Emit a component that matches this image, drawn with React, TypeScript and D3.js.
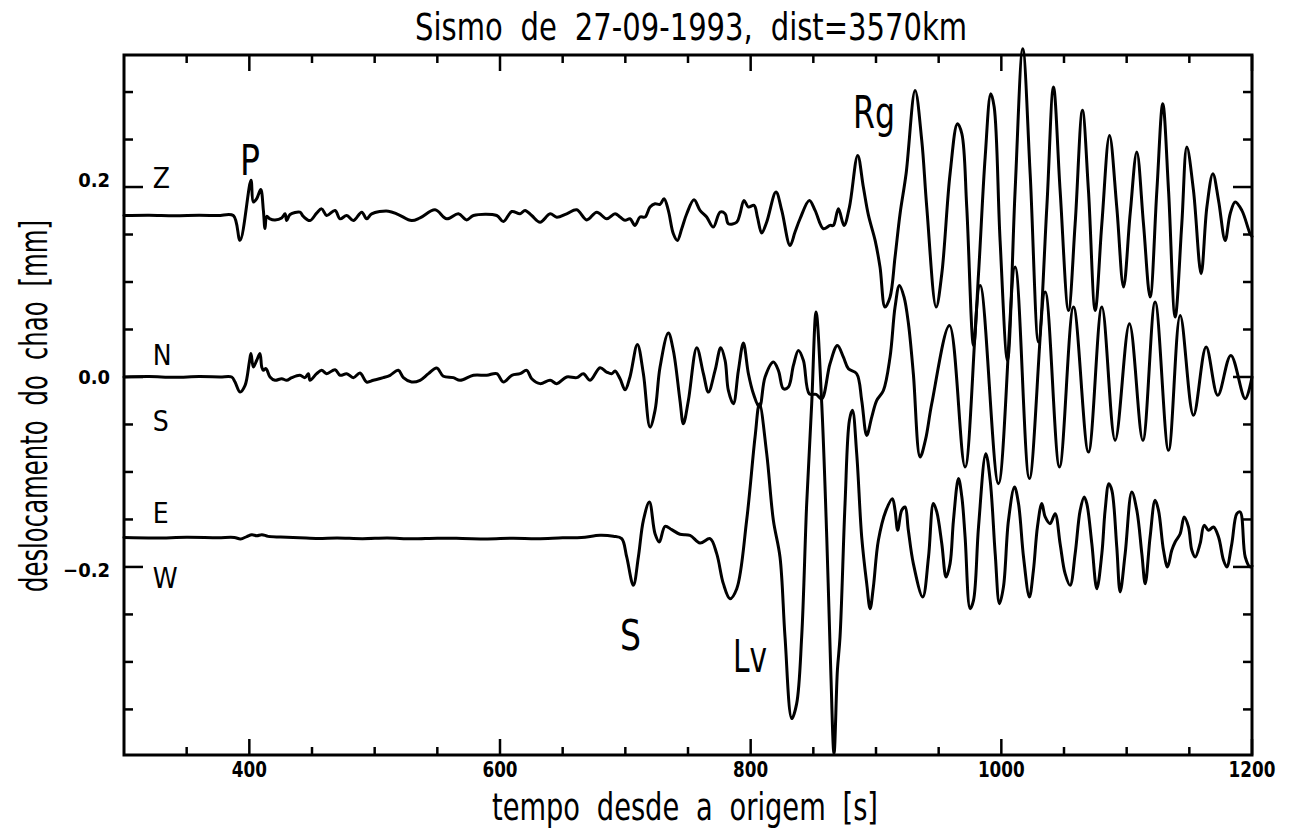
import React from 'react';
import * as d3 from 'd3';

// ---------- data (time [s], displacement [mm]) ----------
const zTrace: [number, number][] = [
  [300, 0.17], [320, 0.1703], [340, 0.1698], [360, 0.1702], [375, 0.1699], [387.2, 0.17],
  [392.6, 0.1439], [401.3, 0.2071], [403.2, 0.1842], [405.9, 0.1878], [409.1, 0.1973], [411.2, 0.1755],
  [412.5, 0.1562], [413.9, 0.1692], [416.5, 0.1665], [420.5, 0.1654], [425.8, 0.1675], [428.5, 0.1718],
  [429.8, 0.1647], [432.5, 0.171], [440.4, 0.1735], [443.1, 0.169], [448.4, 0.1647], [453.7, 0.1725],
  [457.7, 0.177], [461.7, 0.17], [468.4, 0.1753], [472.4, 0.1665], [477.7, 0.17], [483, 0.1647],
  [489.7, 0.1735], [493.6, 0.1665], [497.6, 0.1718], [510.9, 0.1746], [518.9, 0.171], [529.5, 0.1647],
  [536.2, 0.1675], [548.2, 0.176], [557.5, 0.1665], [566.8, 0.1718], [573.4, 0.1654], [578.8, 0.17],
  [597.4, 0.17], [602.7, 0.1637], [609.4, 0.1742], [616, 0.1718], [620, 0.1753], [625.3, 0.17],
  [632, 0.163], [640, 0.1718], [645.3, 0.1682], [653.2, 0.1718], [661.2, 0.176], [669.2, 0.1654],
  [677.2, 0.1735], [685.1, 0.1666], [691.8, 0.1719], [695.8, 0.1684], [699.8, 0.1649], [703.7, 0.1666],
  [707.7, 0.1596], [711.7, 0.1684], [715.7, 0.1684], [719.7, 0.1789], [723.7, 0.1824], [727.7, 0.1817],
  [730.9, 0.1877], [734.3, 0.1754], [738.3, 0.1508], [741.5, 0.1438], [745, 0.1561], [749, 0.1719],
  [754.8, 0.1866], [759.6, 0.1754], [764.9, 0.1684], [770.2, 0.1578], [775.6, 0.1736], [779.6, 0.1719],
  [782.2, 0.1614], [788.9, 0.1631], [791.5, 0.1719], [794.7, 0.1859], [798.2, 0.1789], [802.7, 0.1807],
  [805.4, 0.1684], [808.8, 0.1515], [812.8, 0.1631], [820.2, 0.1947], [824.8, 0.1754], [831.4, 0.1385],
  [835.4, 0.1526], [839.4, 0.1666], [846.8, 0.1859], [851.4, 0.1754], [858, 0.1561], [863.3, 0.1596],
  [866, 0.1596], [870, 0.1771], [874.5, 0.1596], [878.8, 0.1789], [885.4, 0.2333], [889.9, 0.2],
  [894, 0.1701], [899.3, 0.1438], [903.2, 0.1157], [907.2, 0.0736], [911.2, 0.0841], [915.2, 0.1263],
  [919.2, 0.1719], [924, 0.214], [931.2, 0.3017], [936.5, 0.2491], [940.5, 0.1789], [948, 0.0736],
  [952.5, 0.1087], [959.1, 0.214], [965, 0.2667], [968.5, 0.2561], [972.4, 0.1789], [977.8, 0.0332],
  [981.8, 0.1087], [987.1, 0.2315], [991.6, 0.2982], [994.3, 0.2842], [999, 0.1438], [1004.9, 0.0174],
  [1011, 0.1965], [1017.1, 0.3456], [1023, 0.214], [1029.6, 0.0367], [1036.3, 0.1789], [1041.6, 0.3053],
  [1046.9, 0.1965], [1053.6, 0.0701], [1058.9, 0.1614], [1064.7, 0.2807], [1069.5, 0.1965], [1074.9, 0.0701],
  [1080.2, 0.1614], [1086.3, 0.2543], [1092.1, 0.1789], [1097.5, 0.0947], [1102.8, 0.1719], [1108.1, 0.237],
  [1113.4, 0.1614], [1118.7, 0.0841], [1124.1, 0.1965], [1128.8, 0.2877], [1133.4, 0.1965], [1138.7, 0.0631],
  [1144, 0.1614], [1148, 0.2421], [1153.3, 0.1965], [1159.4, 0.1087], [1164, 0.1789], [1168.8, 0.214],
  [1173.3, 0.1859], [1178.6, 0.1438], [1182.6, 0.1719], [1186.6, 0.1842], [1191.9, 0.1754], [1198.5, 0.1508],
  [1200, 0.148],
];

const nTrace: [number, number][] = [
  [300, 0], [320, 0.0005], [340, -0.0003], [360, 0.0004], [376.6, 0], [385.9, 0], [388.6, -0.0053],
  [392.6, -0.0158], [396.6, -0.0088], [400, 0.0158], [401.3, 0.0246], [403.2, 0.0105], [405.9, 0.0176],
  [408.5, 0.0246], [409.9, 0.0105], [411.2, 0.007], [413.3, 0.0088], [416.5, 0], [420.5, -0.0035],
  [425.8, -0.0018], [429.8, -0.0035], [433.8, -0.0007], [440.4, 0.0018], [444.4, -0.0007], [447.1, 0.0035],
  [448.4, -0.0035], [453.7, 0.0035], [457.7, 0.007], [461.7, 0.0035], [468.4, 0.0077], [472.4, 0.0018],
  [477.7, 0.0035], [483, -0.0007], [488.3, 0.0042], [493.6, -0.0053], [499, -0.0035], [506.9, -0.0007],
  [512.3, 0.0018], [518.9, 0.007], [522.9, -0.0007], [529.5, -0.0053], [536.2, -0.0035], [542.9, 0.0035],
  [549.5, 0.0095], [554.8, 0.0007], [562.8, -0.0007], [568.1, -0.0035], [578.8, 0.0018], [589.4, 0.0018],
  [597.4, 0.0035], [602.7, -0.0053], [609.4, 0.0018], [616, 0.0035], [621.3, 0.007], [625.3, -0.0018],
  [632, -0.007], [640, -0.0035], [645.3, -0.007], [653.2, 0], [661.2, -0.0007], [666.5, 0.0035],
  [671.9, -0.0035], [679.8, 0.0098], [685.1, 0.0052], [689.1, 0.0034], [691.8, 0.0062], [695.8, -0.0019],
  [699.8, -0.0135], [703.7, 0], [709.6, 0.0343], [714.4, 0.0034], [719.7, -0.0528], [723.7, -0.0352],
  [727.7, 0.0104], [734.3, 0.0462], [738.3, 0.0279], [743.6, -0.0247], [746.3, -0.0493], [750.3, -0.0247],
  [757, 0.0308], [762.3, 0.0034], [766.3, -0.0159], [771.6, 0.0069], [776.1, 0.0308], [779.6, 0.0174],
  [782.2, -0.0142], [786.2, -0.0282], [790.2, 0.0069], [794.2, 0.0357], [798.2, 0.0034], [802.2, -0.0177],
  [807, -0.0317], [811.5, 0], [818.1, 0.0157], [822.1, 0.007], [826.1, -0.0124], [830.1, -0.0106],
  [834.1, 0.0122], [838.1, 0.028], [842.1, 0.0174], [846.8, -0.0177], [852.2, -0.0184], [856.7, -0.023],
  [863.3, 0.0139], [869.2, 0.0332], [874, 0.0209], [878, 0.0087], [884.6, 0.0034], [888.6, -0.0247],
  [892.6, -0.0615], [896.6, -0.0422], [900.6, -0.0247], [905.9, -0.0142], [911.2, 0.0209], [915.2, 0.0736],
  [918.7, 0.0964], [922.4, 0.0841], [925.9, 0.056], [929.8, 0.0034], [935.2, -0.0842], [939.5, -0.066],
  [944.5, -0.028], [958.6, 0.0543], [971.1, -0.0947], [983.1, 0.0964], [997.7, -0.1123], [1011, 0.1157],
  [1022.4, -0.107], [1035, 0.0894], [1046.4, -0.0947], [1057.6, 0.0736], [1069.5, -0.079], [1080.2, 0.0736],
  [1090.8, -0.0667], [1102.2, 0.056], [1112.9, -0.0667], [1122.7, 0.0789], [1133.4, -0.0772], [1142.7, 0.0648],
  [1153.3, -0.0403], [1163.4, 0.0315], [1172.7, -0.0193], [1183.1, 0.0227], [1194.6, -0.0228], [1200, 0],
];

const eTrace: [number, number][] = [
  [300, -0.169], [325, -0.1695], [350, -0.1688], [375, -0.1692], [388, -0.169], [393, -0.1705],
  [398, -0.168], [402, -0.1662], [406, -0.1672], [410, -0.166], [415, -0.1678], [425, -0.1685],
  [440, -0.1692], [455, -0.17], [470, -0.1694], [490, -0.1702], [510, -0.1696], [530, -0.1703],
  [550, -0.1697], [570, -0.17], [590, -0.1705], [610, -0.1698], [630, -0.1702], [650, -0.1693],
  [665, -0.169], [679.8, -0.1667], [690.4, -0.1677], [697.1, -0.1702], [701.1, -0.1895], [706.4, -0.2194],
  [710.4, -0.1895], [714.4, -0.1509], [719.2, -0.1316], [723.7, -0.165], [727.1, -0.1737], [731.7, -0.1572],
  [737, -0.1607], [743.6, -0.1656], [751.6, -0.1667], [759.6, -0.1748], [767.6, -0.1702], [772.9, -0.186],
  [778.2, -0.2176], [783.5, -0.2334], [788.9, -0.2229], [796.8, -0.1509], [803.5, -0.0632], [807, -0.0281],
  [812.8, -0.0807], [818.1, -0.1509], [823.4, -0.1895], [827.4, -0.2737], [832.8, -0.3597], [836.7, -0.3439],
  [840.7, -0.2737], [844.7, -0.1333], [848.7, -0.0281], [852.2, 0.0684], [856.7, -0.0281], [860.7, -0.1685],
  [863.9, -0.3088], [866.5, -0.3966], [869.2, -0.3088], [871.3, -0.2737], [875.3, -0.1333], [878.8, -0.0456],
  [881.2, -0.0351], [884.6, -0.0807], [888.6, -0.1685], [892.6, -0.2176], [895.3, -0.2439], [897.9, -0.2211],
  [901.9, -0.172], [908, -0.1404], [913.1, -0.1281], [915.2, -0.1404], [917.3, -0.1614], [920.5, -0.1404],
  [923.2, -0.1369], [925.8, -0.1614], [929.8, -0.1965], [937.3, -0.2316], [941.9, -0.1895], [945.8, -0.1333],
  [948.5, -0.1421], [952.5, -0.1755], [955.9, -0.2106], [959.1, -0.1965], [961.8, -0.1509], [965.8, -0.107],
  [968.5, -0.1263], [971.1, -0.1685], [975.1, -0.2439], [977.8, -0.2352], [981.8, -0.1579], [987.6, -0.0807],
  [991.1, -0.1088], [995.1, -0.186], [998.5, -0.2387], [1001.7, -0.221], [1005.7, -0.1509], [1010.5, -0.1158],
  [1013.7, -0.1333], [1017.7, -0.1895], [1022.4, -0.2316], [1025.6, -0.2036], [1028.8, -0.1579], [1032.3, -0.1333],
  [1035, -0.1474], [1038.9, -0.1544], [1042.9, -0.1439], [1046.9, -0.1755], [1050.9, -0.2071], [1054.9, -0.2194],
  [1058.9, -0.186], [1062.9, -0.1404], [1066.1, -0.1263], [1068.2, -0.1333], [1072.2, -0.1755], [1076.2, -0.2229],
  [1080.2, -0.186], [1082.8, -0.1404], [1085.8, -0.1123], [1088.2, -0.1193], [1092.1, -0.179], [1094.8, -0.2264],
  [1098.8, -0.186], [1104.1, -0.1211], [1108.1, -0.1404], [1112.1, -0.186], [1114.8, -0.2176], [1118.7, -0.1685],
  [1122.7, -0.1299], [1125.4, -0.1404], [1129.4, -0.1825], [1132.6, -0.2], [1136, -0.1825], [1138.7, -0.1737],
  [1142.7, -0.165], [1145.9, -0.1474], [1149.3, -0.1579], [1152, -0.1825], [1154.7, -0.1895], [1158.6, -0.1755],
  [1161.8, -0.1562], [1165.3, -0.1614], [1169.3, -0.1579], [1173.3, -0.1685], [1177.3, -0.193], [1179.9, -0.2],
  [1183.9, -0.1755], [1187.9, -0.1439], [1190.6, -0.1421], [1194.6, -0.1895], [1198.5, -0.2], [1200, -0.199],
];

const xMajorTicks = [400, 600, 800, 1000, 1200];
const xMinorTicks = [350, 450, 500, 550, 650, 700, 750, 850, 900, 950, 1050, 1100, 1150];
const yMajorTicks = [-0.2, 0.0, 0.2];
const yMinorTicks = [-0.35, -0.3, -0.25, -0.15, -0.1, -0.05, 0.05, 0.1, 0.15, 0.25, 0.3];
const yTickLabels = ['\u22120.2', '0.0', '0.2'];
const yTickLabelShift = [10, 7, 0];

// component labels: [text, time, value]
const componentLabels: [string, number, number][] = [
  ['Z', 323, 0.1986], ['N', 323, 0.0123], ['S', 323, -0.0572], ['E', 323, -0.154], ['W', 323, -0.2225],
];
// phase labels: [text, time, value, fontSize, width]
const phaseLabels: [string, number, number, number, number][] = [
  ['P', 392.6, 0.2123, 42, 20], ['S', 695.8, -0.2877, 43, 21], ['Lv', 786, -0.3108, 45, 34], ['Rg', 881.7, 0.2618, 45, 42],
];

const title = 'Sismo de 27-09-1993, dist=3570km';
const xTitle = 'tempo desde a origem [s]';
const yTitle = 'deslocamento do chao [mm]';

const W = 1290, H = 828;
const L = 124, R = 1252, T = 55, B = 755;
const FONT = '"DejaVu Sans Condensed", "Liberation Sans Narrow", "Liberation Sans", sans-serif';

export default function App() {
  const x = d3.scaleLinear().domain([300, 1200]).range([L, R]);
  const y = d3.scaleLinear().domain([-0.398, 0.339]).range([B, T]);
  const line = d3.line<[number, number]>()
    .x(d => x(d[0]))
    .y(d => y(d[1]))
    .curve(d3.curveCatmullRom.alpha(0.5));

  const sw = 3;
  return (
    <svg width={W} height={H} style={{ position: 'absolute', left: 0, top: 0, background: '#fff' }}
      fontFamily={FONT}>
      {[zTrace, nTrace, eTrace].map((tr, i) => (
        <path key={i} d={line(tr) || ''} fill="none" stroke="#000" strokeWidth={sw}
          strokeLinejoin="round" strokeLinecap="round" />
      ))}
      {/* frame */}
      <rect x={L} y={T} width={R - L} height={B - T} fill="none" stroke="#000" strokeWidth={3} />
      {/* x ticks */}
      {xMinorTicks.map(t => (
        <g key={'xm' + t}>
          <line x1={x(t)} x2={x(t)} y1={B} y2={B - 8} stroke="#000" strokeWidth={2.5} />
          <line x1={x(t)} x2={x(t)} y1={T} y2={T + 8} stroke="#000" strokeWidth={2.5} />
        </g>
      ))}
      {xMajorTicks.map(t => (
        <g key={'xM' + t}>
          <line x1={x(t)} x2={x(t)} y1={B} y2={B - 16} stroke="#000" strokeWidth={2.5} />
          <line x1={x(t)} x2={x(t)} y1={T} y2={T + 16} stroke="#000" strokeWidth={2.5} />
          <text x={x(t)} y={777} textAnchor="middle" fontSize={22} fontWeight="bold"
            textLength={String(t).length * 11.7} lengthAdjust="spacingAndGlyphs">{t}</text>
        </g>
      ))}
      {/* y ticks */}
      {yMinorTicks.map(v => (
        <g key={'ym' + v}>
          <line x1={L} x2={L + 9} y1={y(v)} y2={y(v)} stroke="#000" strokeWidth={2.5} />
          <line x1={R} x2={R - 9} y1={y(v)} y2={y(v)} stroke="#000" strokeWidth={2.5} />
        </g>
      ))}
      {yMajorTicks.map((v, i) => (
        <g key={'yM' + v}>
          <line x1={L} x2={L + 19} y1={y(v)} y2={y(v)} stroke="#000" strokeWidth={2.5} />
          <line x1={R} x2={R - 19} y1={y(v)} y2={y(v)} stroke="#000" strokeWidth={2.5} />
          <text x={110} y={y(v) + yTickLabelShift[i]} textAnchor="end" fontSize={20} fontWeight="bold">{yTickLabels[i]}</text>
        </g>
      ))}
      {componentLabels.map(([s, t, v], i) => (
        <text key={'c' + i} x={x(t)} y={y(v)} fontSize={28}>{s}</text>
      ))}
      {phaseLabels.map(([s, t, v, fs, w], i) => (
        <text key={'p' + i} x={x(t)} y={y(v)} fontSize={fs} textLength={w} lengthAdjust="spacingAndGlyphs">{s}</text>
      ))}
      <text x={691} y={40} textAnchor="middle" fontSize={37} wordSpacing={10}
        textLength={552} lengthAdjust="spacingAndGlyphs">{title}</text>
      <text x={685} y={820} textAnchor="middle" fontSize={37} wordSpacing={10}
        textLength={386} lengthAdjust="spacingAndGlyphs">{xTitle}</text>
      <text transform={`translate(47,406) rotate(-90)`} textAnchor="middle" fontSize={37} wordSpacing={10}
        textLength={372} lengthAdjust="spacingAndGlyphs">{yTitle}</text>
    </svg>
  );
}
